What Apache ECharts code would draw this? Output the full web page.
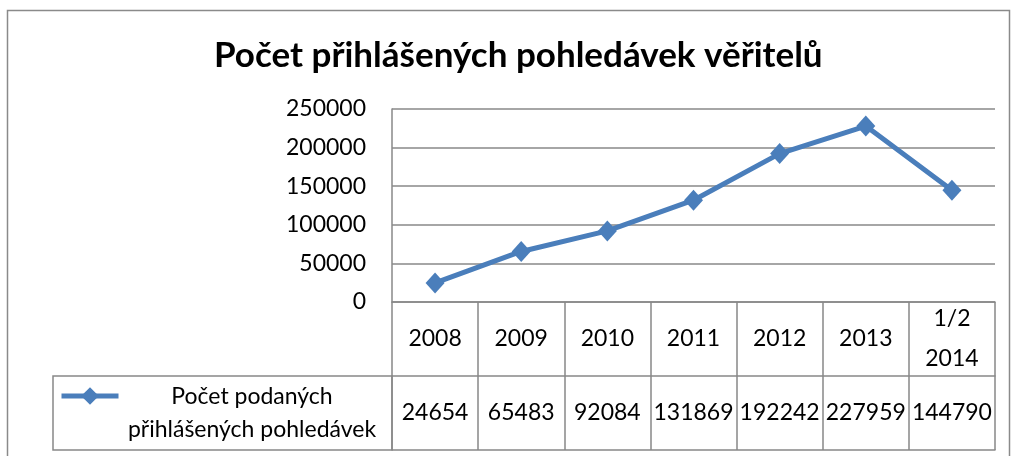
<!DOCTYPE html>
<html>
<head>
<meta charset="utf-8">
<script src="https://cdn.jsdelivr.net/npm/echarts@6/dist/echarts.min.js"></script>
<style>
  html, body { margin: 0; padding: 0; background: #fff; }
  #chart { width: 1011px; height: 456px; }
</style>
</head>
<body>
<div id="chart"></div>
<script>
// data
const years = ['2008', '2009', '2010', '2011', '2012', '2013', '1/2\n2014'];
const claims = [24654, 65483, 92084, 131869, 192242, 227959, 144790];
const seriesName = 'Počet podaných přihlášených pohledávek';
const seriesLabel = ['Počet podaných', 'přihlášených pohledávek'];
const titleText = 'Počet přihlášených pohledávek věřitelů';

const font = 'Lato, "Open Sans", sans-serif';
const gray = '#888888';
const blue = '#4A7EBB';

let chart = echarts.init(document.getElementById('chart'));

chart.setOption({
  animation: false,
  backgroundColor: '#fff',
  textStyle: { fontFamily: font },
  title: {
    text: titleText,
    left: 209,
    top: 33,
    textStyle: { fontSize: 35, fontWeight: 'bold', color: '#000', fontFamily: font }
  },
  grid: { left: 392, right: 16, top: 109, bottom: 154 },
  legend: {
    left: 59,
    top: 385,
    padding: 0,
    itemWidth: 57,
    itemHeight: 22,
    lineStyle: { width: 5 },
    formatter: function () { return ''; },
    data: [seriesName]
  },
  xAxis: [{
    type: 'category',
    data: years,
    position: 'bottom',
    boundaryGap: true,
    axisLine: { lineStyle: { color: gray, width: 1.5 } },
    axisTick: { show: true, length: 148, lineStyle: { color: gray, width: 1.5 } },
    axisLabel: { interval: 0, margin: 37, verticalAlign: 'middle', lineHeight: 40, fontSize: 23, color: '#000' }
  }, {
    type: 'category',
    data: claims.map(String),
    position: 'bottom',
    offset: 74,
    axisLine: { lineStyle: { color: gray, width: 1.5 } },
    axisTick: { show: false },
    axisLabel: { interval: 0, margin: 37, verticalAlign: 'middle', fontSize: 23, color: '#000' }
  }, {
    type: 'category',
    data: years,
    position: 'bottom',
    offset: 148,
    axisLine: { lineStyle: { color: gray, width: 1.5 } },
    axisTick: { show: false },
    axisLabel: { show: false }
  }],
  yAxis: {
    type: 'value',
    min: 0,
    max: 250000,
    interval: 50000,
    axisLine: { show: true, lineStyle: { color: gray, width: 1.5 } },
    axisTick: { show: false },
    axisLabel: { margin: 26, fontSize: 23, color: '#000', formatter: function (v) { return String(v); } },
    splitLine: { lineStyle: { color: gray, width: 1.5 } }
  },
  graphic: [{
    type: 'rect',
    shape: { x: 7.5, y: 10.5, width: 1002, height: 460 },
    style: { fill: 'none', stroke: '#8a8a8a', lineWidth: 1.5 },
    silent: true
  }, {
    type: 'rect',
    shape: { x: 53, y: 376, width: 339, height: 74 },
    style: { fill: 'none', stroke: gray, lineWidth: 1.5 },
    silent: true
  }, {
    type: 'text',
    style: {
      x: 252,
      y: 380,
      text: seriesLabel.join('\n'),
      align: 'center',
      lineHeight: 33,
      fontSize: 23,
      fontFamily: font,
      fill: '#000'
    }
  }],
  series: [{
    name: seriesName,
    type: 'line',
    data: claims,
    symbol: 'diamond',
    symbolSize: [19, 21],
    lineStyle: { color: blue, width: 5 },
    itemStyle: { color: blue }
  }]
});
</script>
</body>
</html>
